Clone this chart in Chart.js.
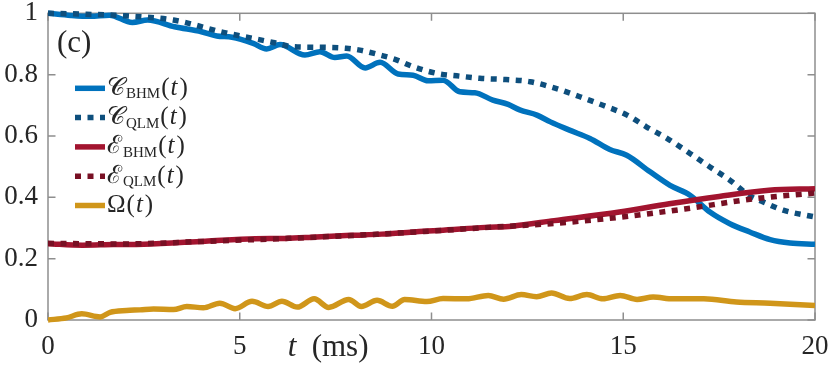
<!DOCTYPE html>
<html><head><meta charset="utf-8">
<script src="https://cdn.jsdelivr.net/npm/chart.js@4.4.0/dist/chart.umd.min.js"></script>
<style>html,body{margin:0;padding:0;background:#fff}#wrap{width:830px;height:369px}</style>
</head><body><div id="wrap"><canvas id="c" width="830" height="369"></canvas></div>
<script>
// ---- data (t in ms) ----
const tC_BHM = [0,0.6,1.1,1.6,2.2,2.6,3.3,4.0,4.4,4.8,5.35,5.7,6.05,6.7,7.09,7.48,7.79,8.27,8.66,9.13,9.52,9.91,10.3,10.74,11.13,11.6,12.0,12.3,12.75,13.1,13.6,14.13,14.65,15.09,15.7,16.22,16.74,17.26,17.78,18.3,18.83,19.35,20];
const C_BHM  = [1.0,0.993,0.99,0.994,0.97,0.978,0.956,0.94,0.926,0.922,0.902,0.884,0.898,0.864,0.875,0.856,0.861,0.822,0.84,0.802,0.798,0.78,0.782,0.744,0.741,0.717,0.703,0.685,0.668,0.646,0.619,0.592,0.556,0.537,0.483,0.439,0.407,0.352,0.314,0.287,0.262,0.251,0.247];
const tC_QLM = [0,1,2,3.27,4.57,5.87,6.4,7.2,7.77,8.13,8.66,9.05,9.52,10.14,10.74,11.26,11.94,12.57,13.22,13.87,14.47,15.1,15.6,16.17,16.74,17.26,17.78,18.3,18.65,19.17,19.87,20];
const C_QLM  = [1.0,0.997,0.992,0.978,0.938,0.905,0.891,0.889,0.886,0.88,0.864,0.85,0.826,0.804,0.795,0.788,0.784,0.777,0.756,0.728,0.70,0.668,0.63,0.59,0.543,0.499,0.456,0.405,0.385,0.358,0.339,0.336];
const tE_BHM = [0,0.9,1.7,2.5,4.1,5.4,6.2,7.0,7.9,8.7,9.9,10.2,11.4,12.1,13.2,14.9,16.2,17.5,18.8,20];
const E_BHM  = [0.249,0.244,0.246,0.247,0.257,0.265,0.266,0.271,0.276,0.28,0.29,0.292,0.302,0.306,0.324,0.352,0.379,0.403,0.423,0.428];
const tE_QLM = [0,2,4,6,8,10,11.5,13.2,14.9,16.6,18.4,20];
const E_QLM  = [0.25,0.248,0.256,0.265,0.276,0.29,0.302,0.315,0.335,0.362,0.395,0.414];
const tOmega = [0,0.48,0.88,1.36,1.62,2.05,2.4,2.75,3.27,3.62,4.05,4.48,4.88,5.32,5.74,6.1,6.5,6.94,7.32,7.84,8.17,8.58,8.98,9.3,9.88,10.3,10.92,11.48,11.88,12.34,12.74,13.13,13.6,14.05,14.47,14.92,15.36,15.78,16.3,17.1,17.95,18.83,20];
const Omega  = [0.0,0.007,0.02,0.01,0.025,0.031,0.033,0.036,0.034,0.044,0.04,0.055,0.037,0.061,0.044,0.061,0.042,0.069,0.041,0.067,0.044,0.064,0.045,0.067,0.06,0.07,0.069,0.08,0.068,0.083,0.076,0.088,0.07,0.083,0.069,0.08,0.067,0.075,0.069,0.069,0.059,0.055,0.047];

const seriesSymbols = ['𝒞','𝒞','ℰ','ℰ','Ω'];
const seriesSubs    = ['BHM','QLM','BHM','QLM',''];
const xTicks = [0,5,10,15,20];
const yTicks = [0,0.2,0.4,0.6,0.8,1];
const xTitleVar = 't', xTitleUnit = '(ms)';
const panelLabel = '(c)';

const SERIF = '"Liberation Serif", "DejaVu Serif", serif';
const LW = 5.5, DASH = [6, 6.5];

function pts(t, v) { return t.map((x, i) => ({ x: x, y: v[i] })); }

const ds = [
  { data: pts(tC_BHM, C_BHM), borderColor: '#0072BD', dash: [], order: 5 },
  { data: pts(tC_QLM, C_QLM), borderColor: '#0E4F7D', dash: DASH, order: 4 },
  { data: pts(tE_BHM, E_BHM), borderColor: '#A2142F', dash: [], order: 3 },
  { data: pts(tE_QLM, E_QLM), borderColor: '#781024', dash: DASH, order: 2 },
  { data: pts(tOmega, Omega), borderColor: '#D0961A', dash: [], order: 1 }
].map((d, i) => ({
  label: seriesSymbols[i] + seriesSubs[i] + '(t)',
  data: d.data, borderColor: d.borderColor, borderDash: d.dash, order: d.order,
  borderWidth: LW, pointRadius: 0, fill: false, borderCapStyle: 'butt', borderJoinStyle: 'round',
  cubicInterpolationMode: 'monotone', clip: { left: 0, right: 0, top: 6, bottom: 6 }
}));

const boxPlugin = {
  id: 'box',
  beforeDatasetsDraw(chart) {
    const { ctx, chartArea: a, scales } = chart;
    ctx.save();
    ctx.strokeStyle = '#8e8e8e'; ctx.lineWidth = 1.5;
    ctx.strokeRect(a.left, a.top, a.right - a.left, a.bottom - a.top);
    const L = 7.5;
    ctx.beginPath();
    scales.x.ticks.forEach(t => {
      const x = scales.x.getPixelForValue(t.value);
      ctx.moveTo(x, a.bottom); ctx.lineTo(x, a.bottom - L);
      ctx.moveTo(x, a.top); ctx.lineTo(x, a.top + L);
    });
    scales.y.ticks.forEach(t => {
      const y = scales.y.getPixelForValue(t.value);
      ctx.moveTo(a.left, y); ctx.lineTo(a.left + L, y);
      ctx.moveTo(a.right, y); ctx.lineTo(a.right - L, y);
    });
    ctx.stroke();
    ctx.restore();
  },
  afterDraw(chart) {
    const { ctx, chartArea: a, scales } = chart;
    ctx.save();
    ctx.fillStyle = '#262626';
    ctx.textBaseline = 'middle';
    // panel label
    ctx.font = '31px ' + SERIF;
    ctx.fillText(panelLabel, a.left + 9, a.top + 31);
    // x axis title
    const tx = scales.x.getPixelForValue(6.25);
    const ty = a.bottom + 28;
    ctx.font = 'italic 31px ' + SERIF;
    ctx.fillText(xTitleVar, tx, ty);
    ctx.font = '31px ' + SERIF;
    ctx.fillText(xTitleUnit, tx + 24, ty);
    // legend
    const x0 = a.left + 27, x1 = a.left + 57, y0 = a.top + 75, dy = 29.3;
    chart.data.datasets.forEach((d, i) => {
      const y = y0 + i * dy;
      ctx.save();
      ctx.strokeStyle = d.borderColor; ctx.lineWidth = LW; ctx.lineCap = 'butt';
      ctx.setLineDash(d.borderDash);
      ctx.beginPath(); ctx.moveTo(x0, y); ctx.lineTo(x1, y); ctx.stroke();
      ctx.restore();
      let x = x1 + 2;
      ctx.font = '25px ' + SERIF;
      ctx.fillText(seriesSymbols[i], x, y);
      x += ctx.measureText(seriesSymbols[i]).width + 1;
      if (seriesSubs[i]) {
        ctx.font = '15px ' + SERIF;
        ctx.fillText(seriesSubs[i], x, y + 6);
        x += ctx.measureText(seriesSubs[i]).width + 1;
      }
      ctx.font = '25px ' + SERIF;
      ctx.fillText('(', x, y); x += ctx.measureText('(').width + 1;
      ctx.font = 'italic 25px ' + SERIF;
      ctx.fillText('t', x, y); x += ctx.measureText('t').width + 2;
      ctx.font = '25px ' + SERIF;
      ctx.fillText(')', x, y);
    });
    ctx.restore();
  }
};

new Chart(document.getElementById('c'), {
  type: 'line',
  data: { datasets: ds },
  plugins: [boxPlugin],
  options: {
    responsive: false, animation: false, devicePixelRatio: 1,
    layout: { padding: { top: 13.3, right: 15, left: 0, bottom: 0 } },
    plugins: { legend: { display: false }, tooltip: { enabled: false } },
    scales: {
      x: {
        type: 'linear', min: 0, max: 20,
        afterBuildTicks: s => { s.ticks = xTicks.map(v => ({ value: v })); },
        afterFit: s => { s.height = 49; s.paddingLeft = 0; s.paddingRight = 0; },
        ticks: { font: { family: SERIF, size: 27 }, color: '#262626', padding: 11, maxRotation: 0, callback: v => String(v) },
        grid: { display: false, drawTicks: false }, border: { display: false }
      },
      y: {
        type: 'linear', min: 0, max: 1,
        afterBuildTicks: s => { s.ticks = yTicks.map(v => ({ value: v })); },
        afterFit: s => { s.width = 48; s.paddingTop = 0; s.paddingBottom = 0; },
        ticks: { font: { family: SERIF, size: 27 }, color: '#262626', padding: 10, callback: v => String(v) },
        grid: { display: false, drawTicks: false }, border: { display: false }
      }
    }
  }
});
</script></body></html>
